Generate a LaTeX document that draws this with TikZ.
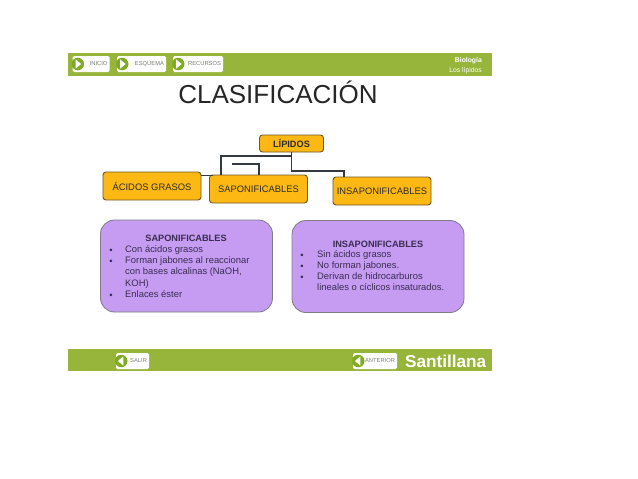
\documentclass[tikz,border=0pt]{standalone}
\usepackage{fontspec}
\setmainfont{Liberation Sans}
\usepackage{xcolor}
\usetikzlibrary{positioning,shapes.geometric}
\definecolor{satBar}{HTML}{97B53A}
\definecolor{satIcon}{HTML}{7FAA22}
\definecolor{satGrey}{HTML}{7D7D75}
\definecolor{satInk}{HTML}{2C2A2A}
\definecolor{satOrange}{HTML}{FDB813}
\definecolor{satEdge}{HTML}{6E5526}
\definecolor{satLine}{HTML}{343A40}
\definecolor{satLilac}{HTML}{C59CF2}
\definecolor{satRim}{HTML}{7F7A86}
\definecolor{satPurple}{HTML}{3A2C52}
\tikzset{
  bar/.style={fill=satBar,draw=none,minimum width=424pt,inner sep=0pt},
  btn/.style={rounded corners=1.5pt,fill=white,draw=none,inner sep=0pt,minimum height=16pt},
  btntext/.style={font=\fontsize{5.8}{6}\selectfont,text=satGrey,inner sep=0pt},
  icon/.style={circle,fill=satIcon,draw=none,inner sep=0pt,minimum size=12.5pt},
  tip/.style={isosceles triangle,isosceles triangle apex angle=80,fill=white,draw=none,inner sep=0pt,minimum size=5.5pt},
  box/.style={rounded corners=3pt,draw=satEdge,line width=0.9pt,fill=satOrange,inner sep=0pt,
              minimum height=28pt,minimum width=98pt,text=satInk,font=\fontsize{9.4}{11}\selectfont},
  panel/.style={rounded corners=14pt,draw=satRim,line width=0.8pt,fill=satLilac,inner sep=0pt,
              minimum height=92pt,minimum width=172pt},
  head/.style={font=\fontsize{9.2}{11}\selectfont\bfseries,text=satPurple,inner sep=0pt},
  item/.style={font=\fontsize{9.4}{11.3}\selectfont,text=satPurple,inner sep=0pt,anchor=north west,align=left},
  dot/.style={font=\fontsize{9.4}{11.3}\selectfont,text=satPurple,inner sep=0pt,anchor=north,yshift=-3pt},
  link/.style={draw=satLine,line width=1.1pt},
}
\begin{document}
\begin{tikzpicture}[x=1pt,y=-1pt]
  \useasboundingbox[fill=white] (0,0) rectangle (638,479);
  % green bars
  \node[bar,minimum height=23pt] (barTop) at (280,64.5) {};
  \node[bar,minimum height=22pt] (barBottom) at (280,360) {};
  % buttons of the bars
  \foreach \n/\cx/\w/\txt in {ini/91/37/INICIO,esq/141.5/49/ESQUEMA,rec/198/50/RECURSOS}{
    \node[btn,minimum width=\w pt] (btn\n) at (\cx,64) {};
    \node[icon,right=-1pt of btn\n.west] (icon\n) {};
    \node[tip] (tip\n) at (icon\n) {};
    \node[btntext,left=2pt of btn\n.east] (txt\n) {\txt};
  }
  \foreach \n/\cx/\w/\txt in {sal/132.5/33/SALIR,ant/375/44/ANTERIOR}{
    \node[btn,minimum width=\w pt] (btn\n) at (\cx,361) {};
    \node[icon,right=-1pt of btn\n.west] (icon\n) {};
    \node[tip,shape border rotate=180] (tip\n) at (icon\n) {};
    \node[btntext,left=2pt of btn\n.east] (txt\n) {\txt};
  }
  \node[inner sep=0pt,text=white,anchor=east,font=\fontsize{17.2}{20}\selectfont\bfseries] (brand) at (486.5,361.5) {Santillana};
  \node[inner sep=0pt,text=white,anchor=east,font=\fontsize{6.8}{8}\selectfont\bfseries] (subject) at (482,60.5) {Biología};
  \node[inner sep=0pt,text=white,anchor=east,font=\fontsize{6.8}{8}\selectfont] (topic) at (482,70.5) {Los lípidos};
  % title
  \node[inner sep=0pt,text=black!85,font=\fontsize{26}{30}\selectfont] (title) at (278,92.5) {CLASIFICACIÓN};
  % tree
  \node[box,minimum width=64pt,minimum height=17pt,font=\fontsize{9.2}{11}\selectfont\bfseries] (lipidos) at (291.5,143.5) {LÍPIDOS};
  \node[box] (acidos) at (152,186) {ÁCIDOS GRASOS};
  \node[box] (sapon) at (258.5,189) {SAPONIFICABLES};
  \node[box] (insap) at (382,191) {INSAPONIFICABLES};
  \coordinate (forkSap) at (221,156);
  \coordinate (forkIns) at (344,171);
  \coordinate (stubFree) at (232,164);
  \coordinate (stubEnd) at (259,175);
  \coordinate (joinAc) at (213,175.5);
  \draw[link] (lipidos.south) |- (forkSap) -- (forkSap |- sapon.north);
  \draw[link] (lipidos.south) |- (forkIns) -- (forkIns |- insap.north);
  \draw[link] (stubFree) -| (stubEnd);
  \draw[link] (acidos.east |- joinAc) -- (joinAc);
  % left panel
  \node[panel] (panelSap) at (186.5,266) {};
  \node[head] (headSap) at (186,238) {SAPONIFICABLES};
  \node[item] (sapA) at (125,245.5) {Con ácidos grasos};
  \node[item] (sapB) at (125,256.5) {Forman jabones al reaccionar\\con bases alcalinas (NaOH,\\KOH)};
  \node[item] (sapC) at (125,290.5) {Enlaces éster};
  \foreach \n in {sapA,sapB,sapC}{
    \node[dot] (dot\n) at (\n.north west -| 111,0) {•};
  }
  % right panel
  \node[panel] (panelIns) at (378,266.5) {};
  \node[head] (headIns) at (378,244) {INSAPONIFICABLES};
  \node[item] (insA) at (317,250.5) {Sin ácidos grasos};
  \node[item] (insB) at (317,261.5) {No forman jabones.};
  \node[item] (insC) at (317,272.5) {Derivan de hidrocarburos\\lineales o cíclicos insaturados.};
  \foreach \n in {insA,insB,insC}{
    \node[dot] (dot\n) at (\n.north west -| 302,0) {•};
  }
\end{tikzpicture}
\end{document}
